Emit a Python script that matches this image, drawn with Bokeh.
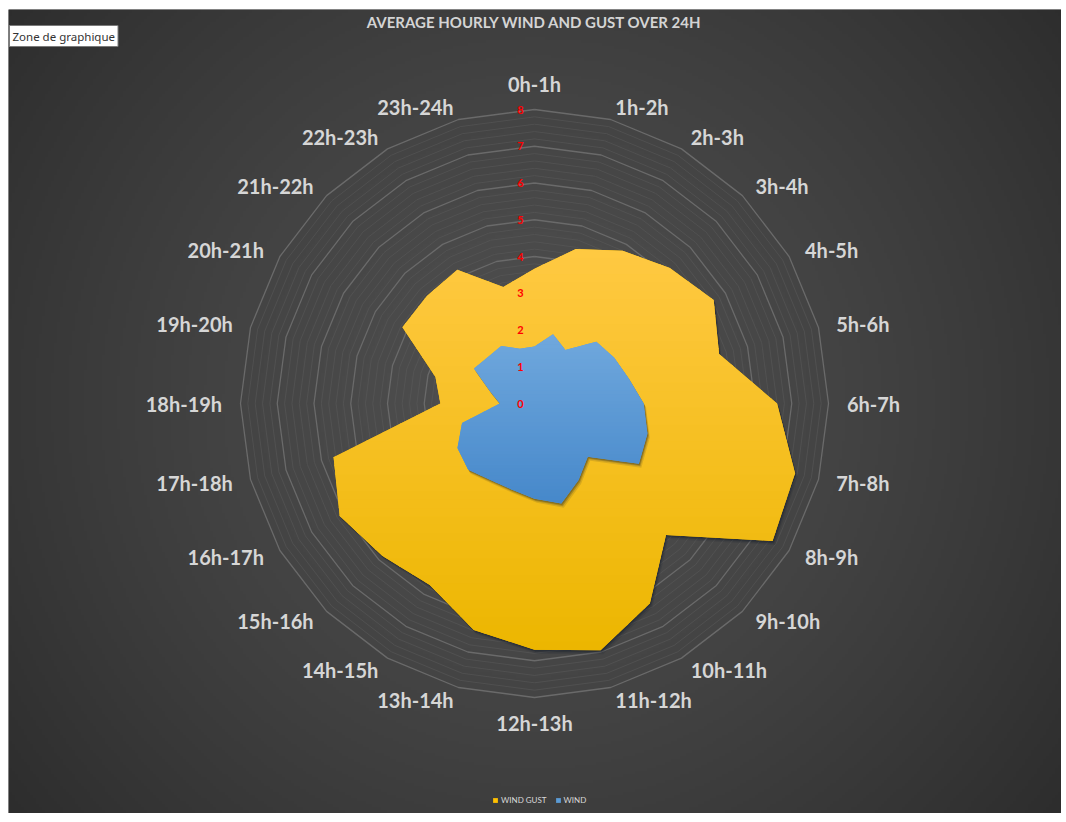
import numpy as np
from bokeh.plotting import figure
from bokeh.models import Range1d, Label, Legend, LegendItem, ColumnDataSource
from bokeh.core.properties import value
from bokeh.embed import file_html
from bokeh.resources import INLINE

# ---------------- data ----------------
categories = ["0h-1h", "1h-2h", "2h-3h", "3h-4h", "4h-5h", "5h-6h", "6h-7h", "7h-8h",
              "8h-9h", "9h-10h", "10h-11h", "11h-12h", "12h-13h", "13h-14h", "14h-15h",
              "15h-16h", "16h-17h", "17h-18h", "18h-19h", "19h-20h", "20h-21h",
              "21h-22h", "22h-23h", "23h-24h"]
wind_gust = [3.67, 4.35, 4.80, 5.21, 5.63, 5.20, 6.60, 7.34, 7.48, 5.06, 6.28, 6.95,
             6.70, 6.38, 5.70, 5.86, 6.12, 5.66, 2.56, 2.79, 4.15, 4.14, 4.20, 3.28]
wind = [1.55, 1.95, 1.68, 2.38, 2.50, 2.65, 2.97, 3.18, 3.28, 2.05, 2.40, 2.82,
        2.59, 2.42, 2.40, 2.55, 2.42, 2.04, 0.94, 1.24, 1.90, 1.79, 1.81, 1.54]
radial_ticks = [0, 1, 2, 3, 4, 5, 6, 7, 8]
title_text = "AVERAGE HOURLY WIND AND GUST OVER 24H"
series_names = ["WIND GUST", "WIND"]

# ---------------- layout ----------------
OFF_L, OFF_T = 8, 9        # white sheet strip left / above the chart area
W, H = 1053, 804           # chart area (frame)
CX, CY = 526, 410          # chart centre in frame pixels (from left / bottom)
PX = 36.75                 # pixels per unit
R_MAX = radial_ticks[-1]
LABEL_RX, LABEL_RY = 8.5, 8.36
FONT = "Lato"

n = len(categories)
theta = np.deg2rad(np.arange(n) * 360.0 / n)
S, C = np.sin(theta), np.cos(theta)

p = figure(width=W + OFF_L, height=H + OFF_T, output_backend="svg", toolbar_location=None,
           x_range=Range1d(-CX / PX, (W - CX) / PX),
           y_range=Range1d(-CY / PX, (H - CY) / PX),
           x_axis_location=None, y_axis_location=None,
           min_border=0, min_border_left=OFF_L, min_border_top=OFF_T,
           min_border_right=0, min_border_bottom=0,
           outline_line_color=None,
           background_fill_color="#3c3c3c", border_fill_color="white")
p.grid.visible = False

# ---------------- background radial gradient ----------------
ny, nx = 268, 351
yy, xx = np.mgrid[0:ny, 0:nx]
px_x = (xx + 0.5) / nx * W
px_y = (yy + 0.5) / ny * H
d = np.sqrt((px_x - CX) ** 2 + (px_y - CY) ** 2) / np.sqrt(527.0 ** 2 + 410.0 ** 2)
g = np.clip(80 - 35 * d ** 1.3, 0, 255).astype(np.uint8)
img = np.empty((ny, nx), dtype=np.uint32)
view = img.view(dtype=np.uint8).reshape((ny, nx, 4))
view[..., 0] = g
view[..., 1] = g
view[..., 2] = g
view[..., 3] = 255
p.image_rgba(image=[img], x=-CX / PX, y=-CY / PX, dw=W / PX, dh=H / PX)

# ---------------- grid rings ----------------
def ring(r):
    xs = list(r * S) + [r * S[0]]
    ys = list(r * C) + [r * C[0]]
    return xs, ys

minor = [round(v, 2) for v in np.arange(0.2, R_MAX + 0.001, 0.2) if abs(v - round(v)) > 0.01]
mx, my = zip(*[ring(r) for r in minor])
p.multi_line(xs=list(mx), ys=list(my), line_color="#5c5c5c", line_width=1, line_alpha=0.5)
Mx, My = zip(*[ring(r) for r in radial_ticks[1:]])
p.multi_line(xs=list(Mx), ys=list(My), line_color="#6a6a6a", line_width=1.3)

# ---------------- filled series with vertical gradient ----------------
def clip_band(xs, ys, ylo, yhi):
    pts = list(zip(xs, ys))

    def clip(pts, keep, yc):
        out = []
        for i in range(len(pts)):
            cur, prev = pts[i], pts[i - 1]
            ci, pi = keep(cur), keep(prev)
            if ci != pi:
                t = (yc - prev[1]) / (cur[1] - prev[1])
                out.append((prev[0] + t * (cur[0] - prev[0]), yc))
            if ci:
                out.append(cur)
        return out

    pts = clip(pts, lambda q: q[1] >= ylo, ylo)
    if len(pts) < 3:
        return None
    pts = clip(pts, lambda q: q[1] <= yhi, yhi)
    if len(pts) < 3:
        return None
    return pts


def hexc(c):
    return "#%02x%02x%02x" % tuple(int(round(v)) for v in c)


def grad_patch(vals, base, top, bottom, nb=48):
    xs = list(np.array(vals) * S)
    ys = list(np.array(vals) * C)
    # soft shadow
    for off, a in ((0.11, 0.12), (0.07, 0.2), (0.04, 0.25)):
        p.patch([x + off * 0.6 for x in xs], [y - off for y in ys],
                fill_color="#101828", fill_alpha=a, line_color=None)
    rb = p.patch(xs, ys, fill_color=base, line_color=None)
    y0, y1 = min(ys), max(ys)
    edges = np.linspace(y0, y1, nb + 1)
    bx, by, bc = [], [], []
    for k in range(nb):
        poly = clip_band(xs, ys, edges[k], edges[k + 1] + (y1 - y0) / nb * 0.15)
        if poly is None:
            continue
        f = (edges[k] + edges[k + 1]) / 2
        t = (f - y0) / (y1 - y0)  # 0 bottom, 1 top
        col = np.array(bottom) * (1 - t) + np.array(top) * t
        bx.append([q[0] for q in poly])
        by.append([q[1] for q in poly])
        bc.append(hexc(col))
    p.patches(bx, by, fill_color=bc, line_color=None)
    return rb

r_gust = grad_patch(wind_gust, "#FFC000", (255, 201, 66), (236, 182, 0))
r_wind = grad_patch(wind, "#5B9BD5", (112, 168, 221), (70, 136, 202))

# ---------------- radial tick labels ----------------
p.text(x=[0] * len(radial_ticks), y=radial_ticks, text=[str(t) for t in radial_ticks],
       x_offset=-14, text_align="center", text_baseline="middle",
       text_color="#ff0000", text_font=value(FONT), text_font_style="bold",
       text_font_size="11px")

# ---------------- category labels ----------------
aligns, baselines = [], []
for s, c in zip(S, C):
    aligns.append("left" if s > 0.01 else ("right" if s < -0.01 else "center"))
    baselines.append("bottom" if c > 0.99 else ("top" if c < -0.99 else "middle"))
src = ColumnDataSource(dict(x=LABEL_RX * S, y=LABEL_RY * C, text=categories,
                            align=aligns, base=baselines))
p.text(x="x", y="y", text="text", source=src, text_align="align",
       text_baseline="base", text_color="#d6d6d6", text_font=value(FONT),
       text_font_style="bold", text_font_size="20px")

# ---------------- title ----------------
p.add_layout(Label(x=CX, y=H - 12, x_units="screen", y_units="screen", text=title_text,
                   text_align="center", text_baseline="middle", text_color="#d4d4d4",
                   text_font=FONT, text_font_style="bold", text_font_size="15px"))

# ---------------- legend ----------------
legend = Legend(items=[LegendItem(label=series_names[0], renderers=[r_gust]),
                       LegendItem(label=series_names[1], renderers=[r_wind])],
                orientation="horizontal", location=(484, 8),
                background_fill_alpha=0, border_line_color=None,
                label_text_color="#d9d9d9", label_text_font=FONT,
                label_text_font_size="8px", glyph_width=6, glyph_height=6,
                label_standoff=3, spacing=8, padding=2, margin=0, label_height=8)
p.add_layout(legend)

# ---------------- Excel tooltip ----------------
p.add_layout(Label(x=1, y=767, x_units="screen", y_units="screen", text="Zone de graphique",
                   text_color="#333333", text_font="Noto Sans", text_font_size="11.5px",
                   background_fill_color="white", border_line_color="#7a7a7a",
                   padding=3))

open("out.html", "w").write(file_html(p, INLINE))
